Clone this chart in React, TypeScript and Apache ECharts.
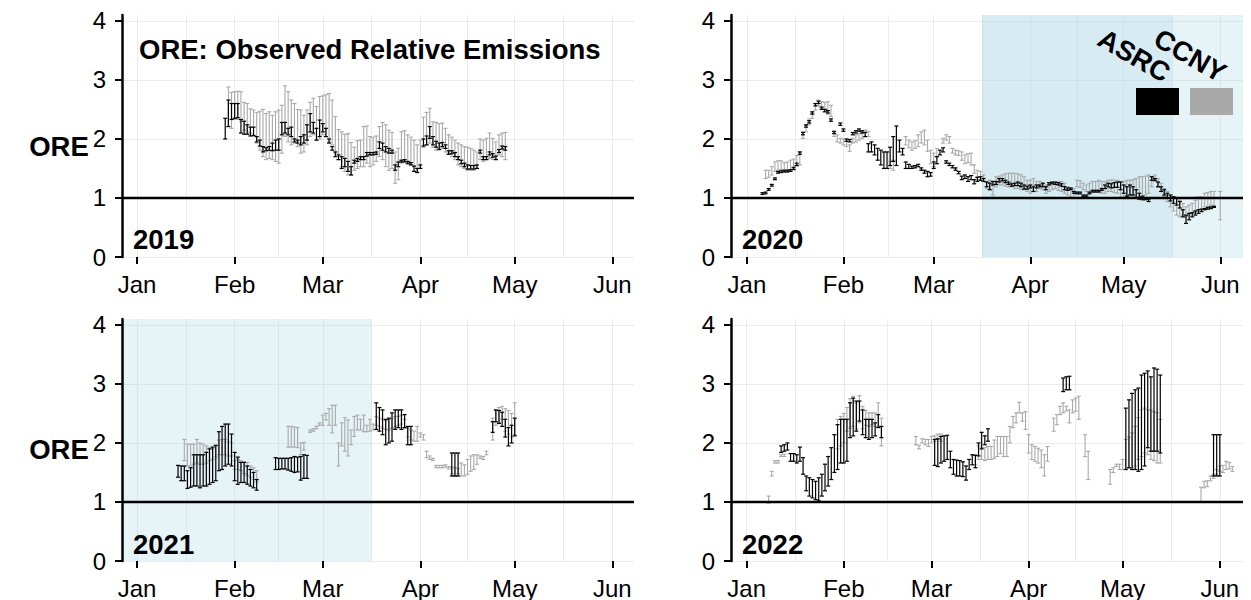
import React, { useEffect, useRef } from 'react';
import * as echarts from 'echarts';

const FONT = '"Liberation Sans", Arial, Helvetica, sans-serif';
const MONTH_NAMES = ['Jan', 'Feb', 'Mar', 'Apr', 'May', 'Jun'];
const MONTH_STARTS = [0, 31, 59, 90, 120, 151];
const MONTH_STARTS_LEAP = [0, 31, 60, 91, 121, 152];
const Y_TICKS = [0, 1, 2, 3, 4];
const N = null;

// ---------- 2019 (day index: days since Jan 1) ----------
const asrc2019Start = 28;
const asrc2019Lo = [2.00,2.21,2.33,2.35,2.36,2.10,2.08,2.08,2.05,2.06, 1.95,1.88,1.78,1.80,1.81,1.80,1.81,1.81,2.07,2.10, 2.07,2.04,1.95,1.93,1.90,1.93,1.98,2.12,2.10,1.98, 2.04,2.12,2.04,1.93,1.81,1.70,1.65,1.50,1.53,1.45, 1.39,1.59,1.62,1.65,1.65,1.71,1.73,1.73,1.74,1.84, 1.81,1.78,1.76,1.76,1.47,1.53,1.61,1.61,1.58,1.56, 1.45,1.43,1.50,1.88,1.90,2.01,1.90,1.86,1.82,1.87, 1.84,1.74,1.75,1.70,1.65,1.58,1.53,1.49,1.49,1.49, 1.50,1.76,1.65,1.65,1.73,1.69,1.65,1.77,1.83,1.81];
const asrc2019Hi = [2.35,2.66,2.60,2.60,2.60,2.33,2.30,2.24,2.20,2.20, 2.04,1.98,1.87,1.85,1.87,1.93,1.98,2.00,2.28,2.28, 2.18,2.20,2.00,1.98,2.04,2.07,2.24,2.43,2.28,2.18, 2.32,2.26,2.18,2.00,1.87,1.78,1.73,1.70,1.67,1.62, 1.53,1.64,1.67,1.70,1.70,1.77,1.77,1.77,1.78,1.95, 1.93,1.87,1.84,1.81,1.56,1.61,1.64,1.65,1.62,1.60, 1.54,1.50,1.56,2.00,2.05,2.21,2.04,1.96,1.93,1.94, 1.90,1.80,1.80,1.77,1.70,1.64,1.59,1.56,1.55,1.55, 1.56,1.81,1.70,1.70,1.78,1.75,1.71,1.82,1.88,1.87];
const ccny2019Start = 29;
const ccny2019Lo = [2.21,2.18,2.33,2.33,2.30,2.15,2.12,2.10,2.04,1.93, 1.81,1.70,1.65,1.67,1.65,1.62,1.59,1.76,2.04,1.95, 1.90,1.93,1.87,1.76,1.78,1.90,2.04,2.07,1.98,2.00, 2.07,2.04,1.95,1.90,1.76,1.65,1.53,1.45,1.39,1.39, 1.47,1.50,1.53,1.53,1.59,1.53,1.56,1.62,1.70,1.65, 1.53,1.47,1.50,1.25,1.31,1.59,1.62,1.59,1.56,1.53, 1.45,1.50,1.86,1.90,1.93,1.86,1.81,1.84,1.84,1.78, 1.76,1.70,1.65,1.56,1.53,1.50,1.47,1.47,1.47,1.50, 1.65,1.62,1.65,1.67,1.65,1.65,1.73,1.70,1.65];
const ccny2019Hi = [2.88,2.79,2.80,2.81,2.80,2.62,2.60,2.51,2.49,2.45, 2.47,2.50,2.43,2.46,2.40,2.46,2.49,2.57,2.90,2.80, 2.66,2.60,2.50,2.49,2.40,2.49,2.62,2.69,2.55,2.72, 2.73,2.75,2.77,2.66,2.38,2.16,2.12,2.08,2.09,1.94, 1.86,1.97,1.98,2.21,2.22,2.04,2.03,2.05,2.21,2.28, 2.24,2.15,2.11,1.78,1.84,2.12,2.14,2.07,2.03,1.98, 1.90,1.98,2.37,2.45,2.52,2.29,2.28,2.26,2.27,2.18, 2.07,2.03,1.98,1.93,1.90,1.87,1.86,1.84,1.81,1.78, 2.00,1.98,2.01,2.10,2.01,1.95,2.07,2.10,2.11];

// ---------- 2020 ----------
const asrc2020Start = 5;
const asrc2020Lo = [1.06,1.07,1.13,1.20,1.31,1.42,1.43,1.44,1.44,1.45, 1.48,1.55,1.74,2.07,2.20,2.27,2.42,2.56,2.60,2.50, 2.46,2.44,2.30,2.09,N,2.23,2.13,1.96,1.95,2.07, 2.10,2.13,2.10,2.04,1.78,1.78,1.73,1.64,1.56,1.50, 1.50,1.55,1.62,1.55,1.78,1.73,1.50,1.50,1.50,1.51, 1.53,1.47,1.42,1.36,1.37,1.50,1.58,1.73,1.78,1.59, 1.55,1.51,1.47,1.41,1.31,1.33,1.28,1.31,1.24,1.28, 1.30,1.28,1.19,1.14,1.22,1.23,1.27,1.29,1.26,1.23, 1.20,1.21,1.21,1.19,1.15,1.15,1.17,1.11,1.17,1.19, 1.19,1.14,1.22,1.24,1.23,1.22,1.20,1.14,1.13,1.14, 1.08,1.07,1.07,1.02,1.02,1.07,1.10,1.10,1.10,1.13, 1.16,1.19,1.17,1.18,1.18,1.14,1.08,1.03,1.05,1.05, 1.00,0.98,0.97,0.97,0.94,1.30,1.30,1.19,1.11,1.05, 1.00,0.95,0.91,0.88,0.83,0.68,0.57,0.63,0.68,0.71, 0.74,0.77,0.80,0.81,0.82,0.84];
const asrc2020Hi = [1.09,1.10,1.16,1.23,1.34,1.45,1.46,1.47,1.47,1.48, 1.52,1.59,1.78,2.11,2.24,2.31,2.46,2.60,2.64,2.54, 2.50,2.48,2.34,2.13,N,2.27,2.17,2.00,1.99,2.11, 2.14,2.17,2.14,2.11,1.92,1.95,1.90,1.84,1.81,1.78, 1.78,1.86,2.04,2.22,1.98,1.84,1.61,1.57,1.54,1.55, 1.57,1.51,1.47,1.45,1.43,1.61,1.70,1.81,1.85,1.63, 1.59,1.55,1.51,1.45,1.37,1.39,1.36,1.38,1.31,1.35, 1.36,1.33,1.27,1.25,1.28,1.28,1.33,1.33,1.30,1.27, 1.24,1.25,1.27,1.25,1.22,1.20,1.22,1.19,1.22,1.22, 1.25,1.19,1.26,1.27,1.27,1.26,1.24,1.19,1.17,1.17, 1.11,1.10,1.10,1.05,1.05,1.10,1.13,1.13,1.13,1.16, 1.22,1.25,1.24,1.26,1.27,1.27,1.22,1.19,1.22,1.19, 1.14,1.08,1.03,1.00,0.98,1.36,1.33,1.27,1.19,1.14, 1.08,1.05,1.02,1.00,0.94,0.80,0.71,0.74,0.75,0.78, 0.80,0.81,0.82,0.84,0.85,0.86];
const ccny2020Start = 6;
const ccny2020Lo = [1.33,1.35,1.39,1.45,1.47,1.48,1.45,1.46,1.48,1.50, 1.54,1.56,2.01,2.12,2.24,2.35,2.49,2.56,2.52,2.51, 2.42,2.38,2.04,1.95,1.93,1.90,1.87,1.79,1.93,1.95, 1.98,2.01,2.04,2.04,N,N,N,N,N,N, 1.50,1.47,N,N,N,1.90,1.85,1.81,1.84,1.87, 1.93,1.90,1.79,1.58,1.53,1.70,N,1.93,1.98,1.93, 1.76,1.73,1.72,1.64,1.58,1.60,1.56,1.42,1.36,1.31, 1.28,1.16,1.14,1.05,1.19,1.22,1.22,1.20,1.19,1.19, 1.16,1.16,1.14,1.14,1.11,1.08,1.11,1.11,1.16,1.14, 1.08,1.11,1.14,1.16,1.13,1.11,1.08,1.05,1.02,1.00, 1.19,1.18,1.14,1.11,1.08,1.11,1.11,1.11,1.08,1.08, 1.11,1.11,1.09,1.08,1.02,1.00,1.02,1.00,1.00,1.02, 1.02,1.03,1.05,1.08,1.19,1.28,1.19,1.11,1.02,0.94, 0.85,0.78,0.71,0.68,0.71,0.68,0.71,0.74,0.77,0.80, 0.82,0.85,0.85,0.88,0.85,N,0.63];
const ccny2020Hi = [1.47,1.47,1.53,1.61,1.63,1.63,1.60,1.61,1.64,1.66, 1.72,1.78,2.12,2.23,2.34,2.44,2.60,2.66,2.63,2.62, 2.63,2.57,2.12,2.07,2.01,2.00,1.96,1.90,2.01,2.07, 2.09,2.12,2.15,2.13,N,N,N,N,N,N, 1.62,1.64,N,N,N,2.04,1.98,1.95,1.97,2.07, 2.12,2.15,1.98,1.81,1.76,1.84,N,2.01,2.07,2.04, 1.84,1.81,1.80,1.78,1.73,1.75,1.76,1.56,1.47,1.45, 1.39,1.28,1.30,1.28,1.36,1.37,1.39,1.41,1.42,1.42, 1.42,1.41,1.39,1.36,1.30,1.30,1.33,1.28,1.28,1.25, 1.22,1.25,1.26,1.25,1.27,1.28,1.25,1.19,1.16,1.16, 1.30,1.29,1.25,1.22,1.25,1.28,1.28,1.30,1.28,1.28, 1.30,1.31,1.30,1.30,1.28,1.28,1.30,1.30,1.31,1.33, 1.36,1.36,1.37,1.39,1.36,1.39,1.33,1.25,1.16,1.11, 1.05,1.02,1.00,0.96,0.91,0.85,0.88,0.91,0.96,1.02, 1.02,1.08,1.09,1.11,1.11,N,1.11];

// ---------- 2021 ----------
const asrc2021Start = 13;
const asrc2021Lo = [1.42,1.36,1.36,1.23,1.25,1.27,1.27,1.24,1.27,1.27, 1.30,1.33,1.36,1.53,1.55,1.61,1.64,1.61,1.36,1.30, 1.33,1.33,1.30,1.27,1.24,1.20,N,N,N,N, N,1.55,1.55,1.56,1.56,1.54,1.52,1.50,1.51,1.37, 1.40,1.40,N,N,N,N,N,N,N,N, N,N,N,N,N,N,N,N,N,N, N,N,N,2.23,2.20,2.14,1.97,2.00,2.03,2.23, 2.26,2.23,2.26,1.97,1.97,N,N,N,N,N, N,N,N,N,N,N,N,1.44,1.44,1.44, N,N,N,N,N,N,N,N,N,N, 2.18,2.36,2.33,2.28,2.10,1.95,2.00,2.12];
const asrc2021Hi = [1.62,1.61,1.61,1.53,1.58,1.80,1.80,1.80,1.80,1.84, 1.90,1.93,1.96,2.19,2.28,2.32,2.32,2.15,1.84,1.76, 1.67,1.67,1.61,1.55,1.50,1.38,N,N,N,N, N,1.75,1.74,1.74,1.74,1.74,1.75,1.77,1.76,1.77, 1.80,1.79,N,N,N,N,N,N,N,N, N,N,N,N,N,N,N,N,N,N, N,N,N,2.68,2.60,2.56,2.40,2.42,2.51,2.56, 2.56,2.56,2.48,2.28,2.28,N,N,N,N,N, N,N,N,N,N,N,N,1.83,1.83,1.83, N,N,N,N,N,N,N,N,N,N, 2.36,2.56,2.55,2.52,2.40,2.26,2.30,2.42];
const ccny2021Start = 15;
const ccny2021Lo = [1.70,1.61,1.61,1.64,1.66,1.64,1.64,1.66,1.70,1.72, 1.76,1.80,1.80,1.80,1.78,1.78,1.55,1.55,1.53,1.48, 1.45,1.42,1.38,1.34,N,N,N,N,N,N, N,N,N,1.93,1.93,1.93,1.92,1.80,1.88,N, 2.18,2.20,2.24,2.30,2.30,2.39,2.30,2.17,2.30,1.61, 1.95,1.86,1.78,1.97,2.11,2.22,2.22,2.19,2.19,2.20, 2.22,2.30,2.28,2.25,2.23,2.22,2.25,2.28,2.30,2.32, 2.25,2.10,2.05,2.03,2.03,2.10,2.05,1.75,1.72,1.70, 1.58,1.58,1.58,1.59,1.56,1.48,1.44,1.48,1.44,1.44, 1.47,1.52,1.55,1.64,1.74,1.72,1.80,N,2.05,2.30, 2.35,2.40,2.20,2.15,2.10,2.14];
const ccny2021Hi = [2.06,1.98,1.98,1.98,2.06,2.00,1.98,1.95,1.92,1.90, 1.95,2.05,2.06,2.06,2.02,2.00,1.70,1.72,1.70,1.68, 1.67,1.61,1.58,1.53,N,N,N,N,N,N, N,N,N,2.28,2.28,2.27,2.26,2.00,2.01,N, 2.22,2.24,2.28,2.34,2.47,2.50,2.58,2.64,2.64,2.00, 2.34,2.43,2.39,2.22,2.45,2.47,2.40,2.47,2.30,2.40, 2.32,2.45,2.42,2.40,2.38,2.40,2.42,2.45,2.45,2.47, 2.40,2.25,2.22,2.20,2.28,2.17,2.14,1.86,1.78,1.74, 1.62,1.62,1.62,1.63,1.60,1.59,1.58,1.57,1.66,1.63, 1.72,1.78,1.80,1.80,1.78,1.77,1.86,N,2.42,2.55, 2.60,2.62,2.58,2.55,2.50,2.68];

// ---------- 2022 ----------
const asrc2022Start = 11;
const asrc2022Lo = [1.84,1.86,1.88,1.69,1.69,1.66,1.69,1.47,1.19,1.10, 1.07,1.04,1.02,1.10,1.19,1.27,1.38,1.50,1.55,1.66, 1.66,1.69,2.09,2.12,2.20,2.37,2.14,2.09,2.06,2.09, 2.12,2.26,2.09,N,N,N,N,N,N,N, N,N,N,N,N,N,N,N,N,1.62, 1.60,1.66,1.69,1.72,1.58,1.47,1.44,1.44,1.43,1.37, 1.55,1.63,1.58,1.78,1.90,1.97,2.03,N,N,N, N,N,N,N,N,N,N,N,N,N, N,N,N,N,N,N,N,N,N,N, 2.87,2.90,2.90,N,N,N,N,N,N,N, N,N,N,N,N,N,N,N,N,N, 1.55,1.58,1.55,1.55,1.52,1.55,1.61,1.92,1.86,1.86, 1.86,1.83,N,N,N,N,N,N,N,N, N,N,N,N,N,N,N,N,1.44,1.44, 1.44];
const asrc2022Hi = [1.95,1.97,2.00,1.82,1.82,1.80,1.93,1.75,1.44,1.41, 1.38,1.35,1.41,1.47,1.64,1.77,1.92,2.14,2.31,2.40, 2.40,2.40,2.68,2.76,2.71,2.71,2.56,2.40,2.40,2.40, 2.34,2.48,2.28,N,N,N,N,N,N,N, N,N,N,N,N,N,N,N,N,2.06, 2.07,2.11,2.12,2.13,1.86,1.72,1.71,1.70,1.68,1.61, 1.72,1.80,1.79,2.00,2.18,2.12,2.24,N,N,N, N,N,N,N,N,N,N,N,N,N, N,N,N,N,N,N,N,N,N,N, 3.10,3.12,3.13,N,N,N,N,N,N,N, N,N,N,N,N,N,N,N,N,N, 2.59,2.73,2.84,2.90,2.93,3.15,3.18,3.22,3.12,3.27, 3.25,3.15,N,N,N,N,N,N,N,N, N,N,N,N,N,N,N,N,2.14,2.14, 2.14];
const ccny2022Start = 7;
const ccny2022Lo = [0.98,1.44,1.66,1.66,1.77,1.77,N,N,N,N, N,N,N,N,N,N,N,N,N,N, N,N,1.90,1.95,2.00,2.20,2.25,2.28,2.24,2.34, 2.24,2.30,2.28,2.31,2.28,2.28,1.95,N,N,N, N,N,N,N,N,N,N,1.97,1.90,2.00, 1.97,1.94,2.00,2.03,2.06,2.03,N,N,N,N, N,N,N,N,N,N,1.63,1.72,1.72,1.70, 1.72,1.72,1.74,1.77,1.82,1.77,1.77,2.00,2.26,2.34, 2.51,2.37,2.23,1.83,1.72,1.69,1.66,1.58,1.44,1.69, N,2.20,2.31,2.48,2.51,2.54,2.34,2.51,2.54,2.40, N,1.77,1.38,N,N,N,N,N,N,1.30, 1.50,1.60,1.55,1.55,1.55,1.58,1.58,1.61,1.72,1.77, 1.83,1.80,1.72,1.70,1.66,1.66,N,N,N,N, N,N,N,N,N,N,N,N,1.00,1.24, 1.26,1.36,1.40,1.47,1.52,1.50,1.55,1.56,1.52];
const ccny2022Hi = [1.10,1.52,1.70,1.70,1.80,1.81,N,N,N,N, N,N,N,N,N,N,N,N,N,N, N,N,2.40,2.45,2.50,2.60,2.75,2.79,2.68,2.80, 2.62,2.55,2.51,2.51,2.51,2.68,2.42,N,N,N, N,N,N,N,N,N,N,2.11,1.96,2.07, 2.06,2.06,2.11,2.12,2.15,2.15,N,N,N,N, N,N,N,N,N,N,1.80,1.95,1.92,1.92, 1.94,1.94,2.05,2.11,2.11,2.11,2.11,2.28,2.45,2.51, 2.69,2.51,2.53,2.14,1.97,1.94,1.91,1.88,1.80,1.94, N,2.42,2.48,2.62,2.68,2.62,2.56,2.73,2.76,2.79, N,2.14,1.86,N,N,N,N,N,N,1.55, 1.58,1.64,1.64,1.72,2.06,2.10,2.17,2.28,2.43,2.56, 2.59,2.56,2.56,2.53,2.51,2.40,N,N,N,N, N,N,N,N,N,N,N,N,1.25,1.35, 1.36,1.44,1.47,1.55,1.61,1.62,1.69,1.67,1.60];

// shaded periods (day index)
const shade2020Dark = [75.5, 136.5];
const shade2020Light = [136.5, 159.3];
const shade2021 = [-4.8, 74.5];

const SHADE_DARK = 'rgba(173,216,230,0.5)';
const SHADE_LIGHT = 'rgba(173,216,230,0.3)';
const BLACK = '#000000';
const GREY = '#A9A9A9';

function bars(start: number, lo: (number | null)[], hi: (number | null)[]) {
  const out: number[][] = [];
  for (let i = 0; i < lo.length; i++) {
    const a = lo[i];
    const b = hi[i];
    if (a == null || b == null) continue;
    out.push([start + i, a, b]);
  }
  return out;
}

function mids(starts: number[]) {
  const m: number[] = [];
  for (let i = 0; i < starts.length - 1; i++) m.push((starts[i] + starts[i + 1]) / 2);
  return m;
}

function errorBar(color: string, lw: number) {
  return (params: any, api: any) => {
    const x = api.value(0);
    const a = api.coord([x, api.value(1)]);
    const b = api.coord([x, api.value(2)]);
    const hw = 2;
    const style = { stroke: color, lineWidth: lw, fill: null };
    return {
      type: 'group',
      children: [
        { type: 'line', shape: { x1: a[0], y1: a[1], x2: b[0], y2: b[1] }, style },
        { type: 'line', shape: { x1: a[0] - hw, y1: a[1], x2: a[0] + hw, y2: a[1] }, style },
        { type: 'line', shape: { x1: b[0] - hw, y1: b[1], x2: b[0] + hw, y2: b[1] }, style },
      ],
    };
  };
}

const PANELS = [
  { year: '2019', left: 122, top: 15, height: 242, xMin: -4.8, xMax: 157.9, leap: false,
    asrc: bars(asrc2019Start, asrc2019Lo, asrc2019Hi), ccny: bars(ccny2019Start, ccny2019Lo, ccny2019Hi), shades: [] as any[] },
  { year: '2020', left: 731, top: 15, height: 242, xMin: -5.1, xMax: 159.3, leap: true,
    asrc: bars(asrc2020Start, asrc2020Lo, asrc2020Hi), ccny: bars(ccny2020Start, ccny2020Lo, ccny2020Hi),
    shades: [[shade2020Dark, SHADE_DARK], [shade2020Light, SHADE_LIGHT]] as any[] },
  { year: '2021', left: 122, top: 319, height: 243, xMin: -4.8, xMax: 157.9, leap: false,
    asrc: bars(asrc2021Start, asrc2021Lo, asrc2021Hi), ccny: bars(ccny2021Start, ccny2021Lo, ccny2021Hi),
    shades: [[shade2021, SHADE_LIGHT]] as any[] },
  { year: '2022', left: 731, top: 319, height: 243, xMin: -5.0, xMax: 158.4, leap: false,
    asrc: bars(asrc2022Start, asrc2022Lo, asrc2022Hi), ccny: bars(ccny2022Start, ccny2022Lo, ccny2022Hi), shades: [] as any[] },
];

function buildOption() {
  const grid: any[] = [];
  const xAxis: any[] = [];
  const yAxis: any[] = [];
  const series: any[] = [];
  const graphic: any[] = [];
  const boldText = (text: string, x: number, y: number, align: string, extra: any = {}) => ({
    type: 'text', x, y, z: 100, zlevel: 0, ...extra,
    style: { text, fontSize: 27.5, fontWeight: 'bold', fontFamily: FONT, fill: '#000', align, verticalAlign: 'middle' },
  });

  PANELS.forEach((p, k) => {
    grid.push({ left: p.left, top: p.top, width: 512, height: p.height });
    const starts = p.leap ? MONTH_STARTS_LEAP : MONTH_STARTS;
    const gridVals = [...starts, ...mids(starts)].sort((a, b) => a - b);
    // month ticks + labels
    xAxis.push({
      type: 'value', gridIndex: k, min: p.xMin, max: p.xMax, position: 'bottom', z: 10,
      axisLine: { show: false, onZero: false },
      splitLine: { show: false },
      axisTick: { show: true, customValues: starts, length: 7, lineStyle: { color: '#000', width: 2 } },
      axisLabel: {
        show: true, customValues: starts, margin: 15, fontSize: 24, color: '#000', fontFamily: FONT,
        formatter: (v: number) => MONTH_NAMES[starts.indexOf(v)] ?? '',
      },
    });
    // vertical grid lines (major + minor)
    xAxis.push({
      type: 'value', gridIndex: k, min: p.xMin, max: p.xMax, position: 'bottom', z: 0,
      axisLine: { show: false, onZero: false },
      axisTick: { show: false, customValues: gridVals },
      axisLabel: { show: false, customValues: gridVals },
      splitLine: { show: true, lineStyle: { color: '#EBEBEB', width: 1 } },
    });
    // y axis line, ticks, labels (above shading)
    yAxis.push({
      type: 'value', gridIndex: k, min: 0, max: 4.1, interval: 1, position: 'left', z: 10,
      axisLine: { show: true, onZero: false, lineStyle: { color: '#000', width: 2.5 } },
      axisTick: { show: true, customValues: Y_TICKS, length: 7, lineStyle: { color: '#000', width: 2 } },
      axisLabel: { show: true, customValues: Y_TICKS, margin: 16, fontSize: 24, color: '#000', fontFamily: FONT },
      splitLine: { show: false },
    });
    // horizontal grid lines (below shading)
    yAxis.push({
      type: 'value', gridIndex: k, min: 0, max: 4.1, interval: 1, position: 'left', z: 0,
      axisLine: { show: false, onZero: false },
      axisTick: { show: false, customValues: Y_TICKS },
      axisLabel: { show: false, customValues: Y_TICKS },
      splitLine: { show: true, lineStyle: { color: '#EBEBEB', width: 1 } },
    });

    series.push({
      type: 'line', xAxisIndex: 2 * k, yAxisIndex: 2 * k, data: [], symbol: 'none', silent: true, z: 1,
      markArea: {
        silent: true,
        data: p.shades.map((s: any) => [{ xAxis: s[0][0], itemStyle: { color: s[1] } }, { xAxis: s[0][1] }]),
      },
    });
    series.push({
      type: 'custom', name: 'CCNY', xAxisIndex: 2 * k, yAxisIndex: 2 * k, data: p.ccny,
      encode: { x: 0, y: [1, 2] }, renderItem: errorBar(GREY, 1.1), silent: true, z: 2,
    });
    series.push({
      type: 'custom', name: 'ASRC', xAxisIndex: 2 * k, yAxisIndex: 2 * k, data: p.asrc,
      encode: { x: 0, y: [1, 2] }, renderItem: errorBar(BLACK, 1.2), silent: true, z: 3,
    });
    series.push({
      type: 'line', xAxisIndex: 2 * k, yAxisIndex: 2 * k, data: [[p.xMin, 1], [p.xMax, 1]],
      symbol: 'none', silent: true, z: 4, lineStyle: { color: '#000', width: 2.5 },
    });

    graphic.push(boldText(p.year, p.left + 11, p.top + p.height - 18, 'left'));
  });

  graphic.push(boldText('ORE: Observed Relative Emissions', 139, 49, 'left'));
  graphic.push(boldText('ORE', 59, 146, 'center'));
  graphic.push(boldText('ORE', 59, 449, 'center'));
  // legend
  graphic.push({ type: 'rect', z: 100, shape: { x: 1136, y: 88, width: 43, height: 27 }, style: { fill: BLACK } });
  graphic.push({ type: 'rect', z: 100, shape: { x: 1190, y: 88, width: 43, height: 27 }, style: { fill: GREY } });
  graphic.push(boldText('ASRC', 1168, 75, 'right', { rotation: -Math.PI / 6 }));
  graphic.push(boldText('CCNY', 1224, 75, 'right', { rotation: -Math.PI / 6 }));

  return {
    animation: false,
    backgroundColor: '#ffffff',
    textStyle: { fontFamily: FONT },
    grid, xAxis, yAxis, series, graphic,
  };
}

export default function App() {
  const ref = useRef<HTMLDivElement>(null);
  useEffect(() => {
    if (!ref.current) return;
    const chart = echarts.init(ref.current, null, { renderer: 'svg', width: 1251, height: 600 });
    chart.setOption(buildOption() as any);
    return () => chart.dispose();
  }, []);
  return (
    <div
      ref={ref}
      style={{ position: 'absolute', left: 0, top: 0, width: 1251, height: 600, background: '#fff' }}
    />
  );
}
